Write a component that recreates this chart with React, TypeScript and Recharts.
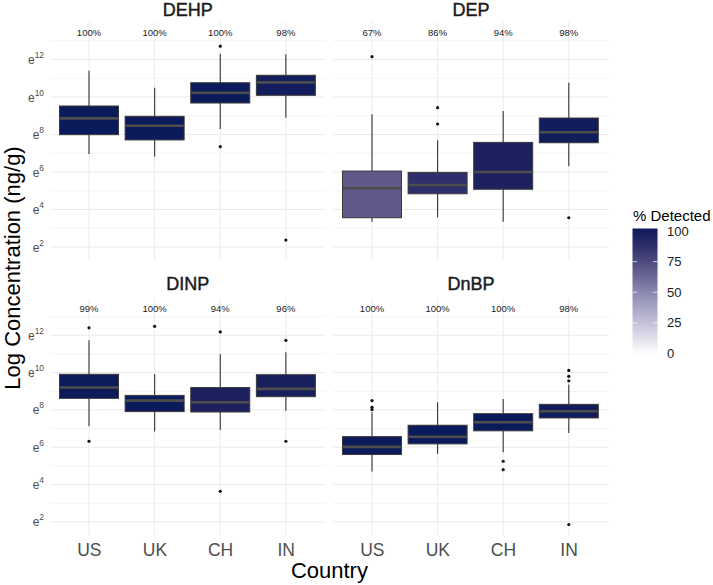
import React from 'react';
import { ComposedChart, Bar, XAxis, YAxis, CartesianGrid } from 'recharts';

const countries = ['US', 'UK', 'CH', 'IN'];

// DEHP (values are natural-log concentrations)
const dehpPct = [100, 100, 100, 98];
const dehpLo = [6.96, 6.82, 8.29, 8.9];
const dehpQ1 = [7.99, 7.71, 9.68, 10.09];
const dehpMed = [8.86, 8.47, 10.23, 10.78];
const dehpQ3 = [9.52, 8.97, 10.76, 11.16];
const dehpHi = [11.4, 10.5, 12.29, 12.28];
const dehpOut = [[], [], [12.71, 7.35], [2.37]];

// DEP
const depPct = [67, 86, 94, 98];
const depLo = [3.35, 3.58, 3.35, 6.3];
const depQ1 = [3.56, 4.84, 5.08, 7.56];
const depMed = [5.13, 5.31, 6.0, 8.12];
const depQ3 = [6.05, 5.98, 7.58, 8.88];
const depHi = [9.08, 7.69, 9.25, 10.76];
const depOut = [[12.15], [9.43, 8.56], [], [3.56]];

// DINP
const dinpPct = [99, 100, 94, 96];
const dinpLo = [7.12, 6.84, 6.93, 7.95];
const dinpQ1 = [8.62, 7.91, 7.89, 8.71];
const dinpMed = [9.2, 8.5, 8.41, 9.13];
const dinpQ3 = [9.91, 8.78, 9.2, 9.89];
const dinpHi = [11.73, 9.93, 11.0, 11.09];
const dinpOut = [[12.4, 6.32], [12.48], [12.18, 3.64], [11.73, 6.32]];

// DnBP
const dnbpPct = [100, 100, 100, 98];
const dnbpLo = [4.7, 5.64, 5.73, 6.77];
const dnbpQ1 = [5.61, 6.18, 6.88, 7.57];
const dnbpMed = [6.02, 6.56, 7.34, 7.93];
const dnbpQ3 = [6.57, 7.18, 7.8, 8.3];
const dnbpHi = [7.87, 8.41, 8.59, 9.36];
const dnbpOut = [[8.5, 8.14, 8.02], [], [5.25, 4.8], [10.12, 9.8, 9.56, 1.86]];

const yTicks = [2, 4, 6, 8, 10, 12];
const yMinor = [3, 5, 7, 9, 11, 13];
const yDomain = [1.28, 14];
const labelLevel = 13.42;
const legendTicks = [0, 25, 50, 75, 100];

// fill colour for % detected (white -> navy)
const fillStops: [number, number[]][] = [
  [0, [255, 255, 255]],
  [25, [196, 194, 218]],
  [50, [138, 134, 176]],
  [67, [95, 90, 138]],
  [86, [46, 47, 107]],
  [94, [29, 34, 95]],
  [100, [11, 26, 90]],
];

function fillFor(p: number) {
  for (let i = 1; i < fillStops.length; i++) {
    const [p0, c0] = fillStops[i - 1];
    const [p1, c1] = fillStops[i];
    if (p <= p1) {
      const t = (p - p0) / (p1 - p0);
      const c = c0.map((v, k) => Math.round(v + (c1[k] - v) * t));
      return `rgb(${c[0]},${c[1]},${c[2]})`;
    }
  }
  return 'rgb(11,26,90)';
}

function buildRows(pct: number[], lo: number[], q1: number[], med: number[], q3: number[], hi: number[], out: number[][]) {
  return countries.map((c, i) => ({
    country: c,
    pct: pct[i],
    lo: lo[i],
    q1: q1[i],
    med: med[i],
    q3: q3[i],
    hi: hi[i],
    out: out[i],
  }));
}

const panels = [
  { name: 'DEHP', rows: buildRows(dehpPct, dehpLo, dehpQ1, dehpMed, dehpQ3, dehpHi, dehpOut) },
  { name: 'DEP', rows: buildRows(depPct, depLo, depQ1, depMed, depQ3, depHi, depOut) },
  { name: 'DINP', rows: buildRows(dinpPct, dinpLo, dinpQ1, dinpMed, dinpQ3, dinpHi, dinpOut) },
  { name: 'DnBP', rows: buildRows(dnbpPct, dnbpLo, dnbpQ1, dnbpMed, dnbpQ3, dnbpHi, dnbpOut) },
];

function BoxShape(props: any) {
  const { x, y, width, height, payload } = props;
  if (!payload || !height) return null;
  const ppu = height / (payload.q3 - payload.q1);
  const toY = (v: number) => y + (payload.q3 - v) * ppu;
  const cx = x + width / 2;
  return (
    <g>
      <line x1={cx} x2={cx} y1={toY(yDomain[1])} y2={toY(yDomain[0])} stroke="#ebebeb" strokeWidth={1} />
      <text x={cx} y={toY(labelLevel)} dy={3.3} textAnchor="middle" fontSize={9.5} fill="#1a1a1a">
        {payload.pct}%
      </text>
      <line x1={cx} x2={cx} y1={toY(payload.q3)} y2={toY(payload.hi)} stroke="#333333" strokeWidth={1.1} />
      <line x1={cx} x2={cx} y1={toY(payload.q1)} y2={toY(payload.lo)} stroke="#333333" strokeWidth={1.1} />
      <rect x={x} y={y} width={width} height={height} fill={fillFor(payload.pct)} stroke="#3a3a3a" strokeWidth={1} />
      <line x1={x + 0.5} x2={x + width - 0.5} y1={toY(payload.med)} y2={toY(payload.med)} stroke="#4d4d4d" strokeWidth={2.6} />
      {payload.out.map((v: number, i: number) => (
        <circle key={i} cx={cx} cy={toY(v)} r={1.6} fill="#111111" />
      ))}
    </g>
  );
}

function ExpTick(props: any) {
  const { x, y, payload } = props;
  return (
    <text x={x} y={y} dy={4.5} textAnchor="end" fill="#4d4d4d" fontSize={12}>
      e<tspan dy={-6} fontSize={8.4}>{payload.value}</tspan>
    </text>
  );
}

function Panel({ rows, left, top, width, height, showX, showY }: any) {
  return (
    <div style={{ position: 'absolute', left, top }}>
      <ComposedChart width={width} height={height} data={rows} margin={{ top: 0, right: 0, bottom: 0, left: 0 }}>
        <CartesianGrid vertical={false} horizontalValues={yMinor} stroke="#f1f1f1" strokeWidth={0.8} />
        <CartesianGrid vertical={false} horizontalValues={yTicks} stroke="#ebebeb" strokeWidth={1} />
        <XAxis
          dataKey="country"
          hide={!showX}
          height={30}
          padding={{ left: 6.5, right: 6.5 }}
          axisLine={false}
          tickLine={false}
          tickSize={0}
          tickMargin={8}
          interval={0}
          tick={{ fill: '#4d4d4d', fontSize: 17.5 }}
        />
        <YAxis
          type="number"
          domain={yDomain}
          ticks={yTicks}
          allowDataOverflow
          hide={!showY}
          width={50}
          axisLine={false}
          tickLine={false}
          tickSize={0}
          tickMargin={6}
          tick={<ExpTick />}
        />
        <Bar dataKey={(d: any) => [d.q1, d.q3]} barSize={59} shape={<BoxShape />} isAnimationActive={false} />
      </ComposedChart>
    </div>
  );
}

const legendTop = 231;
const legendBottom = 353.5;
const legendY = (v: number) => legendBottom - (v / 100) * (legendBottom - legendTop);

const stripStyle = { fontSize: 18, fill: '#1a1a1a', stroke: '#1a1a1a', strokeWidth: 0.45 };

export default function App() {
  return (
    <div
      style={{
        position: 'absolute',
        left: 0,
        top: 0,
        width: 713,
        height: 585,
        background: '#ffffff',
        overflow: 'hidden',
        fontFamily: '"Liberation Sans", Arial, sans-serif',
      }}
    >
      <Panel rows={panels[0].rows} left={0} top={22} width={325.5} height={238.5} showY showX={false} />
      <Panel rows={panels[1].rows} left={333.4} top={22} width={275.4} height={238.5} showY={false} showX={false} />
      <Panel rows={panels[2].rows} left={0} top={298.4} width={325.5} height={267.3} showY showX />
      <Panel rows={panels[3].rows} left={333.4} top={298.4} width={275.4} height={267.3} showY={false} showX />
      <svg width={713} height={585} style={{ position: 'absolute', left: 0, top: 0, pointerEvents: 'none' }}>
        <defs>
          <linearGradient id="pctGrad" x1="0" y1="1" x2="0" y2="0">
            {fillStops.map(([p]) => (
              <stop key={p} offset={`${p}%`} stopColor={fillFor(p)} />
            ))}
          </linearGradient>
        </defs>
        <text x={187.7} y={15.5} textAnchor="middle" style={stripStyle}>{panels[0].name}</text>
        <text x={471.1} y={15.5} textAnchor="middle" style={stripStyle}>{panels[1].name}</text>
        <text x={187.7} y={290} textAnchor="middle" style={stripStyle}>{panels[2].name}</text>
        <text x={471.1} y={290} textAnchor="middle" style={stripStyle}>{panels[3].name}</text>
        <text x={329.4} y={578} textAnchor="middle" fontSize={22} fill="#000000">Country</text>
        <text x={20} y={268} transform="rotate(-90 20 268)" textAnchor="middle" fontSize={22} fill="#000000">
          Log Concentration (ng/g)
        </text>
        <text x={633} y={221} fontSize={15} fill="#000000">% Detected</text>
        <rect x={632.5} y={228.5} width={25} height={126} fill="url(#pctGrad)" />
        {legendTicks.slice(1, 4).map((v) => (
          <g key={v}>
            <line x1={632.5} x2={637} y1={legendY(v)} y2={legendY(v)} stroke="#ffffff" strokeOpacity={0.7} />
            <line x1={653} x2={657.5} y1={legendY(v)} y2={legendY(v)} stroke="#ffffff" strokeOpacity={0.7} />
          </g>
        ))}
        {legendTicks.map((v) => (
          <text key={v} x={667} y={legendY(v) + 4.6} fontSize={13} fill="#1a1a1a">{v}</text>
        ))}
      </svg>
    </div>
  );
}
